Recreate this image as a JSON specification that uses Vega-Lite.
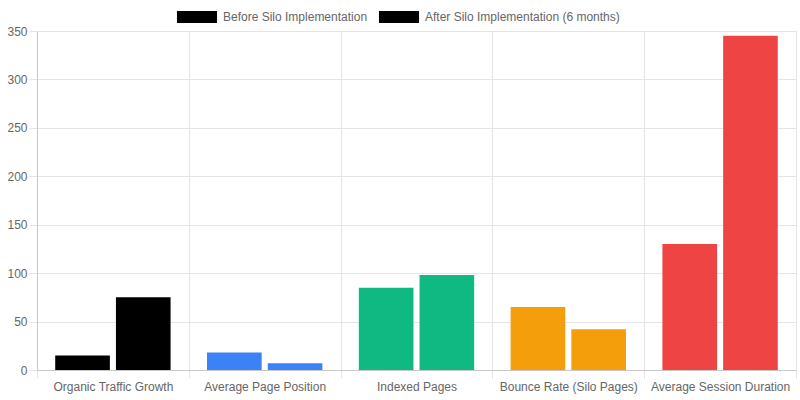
{
  "$schema": "https://vega.github.io/schema/vega-lite/v6.json",
  "width": 800,
  "height": 400,
  "autosize": {"type": "fit", "contains": "padding"},
  "padding": {"left": 6, "right": 3, "top": 25, "bottom": 8},
  "background": "white",
  "config": {
    "font": "Liberation Sans",
    "view": {"stroke": "#e5e5e5"},
    "axis": {"labelFont": "Liberation Sans", "labelFontSize": 12, "labelColor": "#666666", "gridColor": "#e5e5e5", "tickColor": "#e5e5e5", "domainColor": "#c8c8c8", "title": null}
  },
  "data": {
    "values": [
      {"metric": "Organic Traffic Growth", "series": "Before Silo Implementation", "value": 15},
      {"metric": "Organic Traffic Growth", "series": "After Silo Implementation (6 months)", "value": 75},
      {"metric": "Average Page Position", "series": "Before Silo Implementation", "value": 18},
      {"metric": "Average Page Position", "series": "After Silo Implementation (6 months)", "value": 7},
      {"metric": "Indexed Pages", "series": "Before Silo Implementation", "value": 85},
      {"metric": "Indexed Pages", "series": "After Silo Implementation (6 months)", "value": 98},
      {"metric": "Bounce Rate (Silo Pages)", "series": "Before Silo Implementation", "value": 65},
      {"metric": "Bounce Rate (Silo Pages)", "series": "After Silo Implementation (6 months)", "value": 42},
      {"metric": "Average Session Duration", "series": "Before Silo Implementation", "value": 130},
      {"metric": "Average Session Duration", "series": "After Silo Implementation (6 months)", "value": 345}
    ]
  },
  "encoding": {
    "x": {
      "field": "metric", "type": "nominal", "sort": null,
      "scale": {"paddingInner": 0, "paddingOuter": 0},
      "axis": {"labelAngle": 0, "grid": true, "bandPosition": 0, "tickBand": "extent", "tickSize": 8, "labelPadding": 3, "domainColor": "#c8c8c8"}
    },
    "xOffset": {
      "field": "series", "type": "nominal", "sort": ["Before Silo Implementation", "After Silo Implementation (6 months)"],
      "scale": {"paddingInner": 0.1, "paddingOuter": 0.3}
    },
    "y": {
      "field": "value", "type": "quantitative",
      "scale": {"domain": [0, 350], "nice": false},
      "axis": {"values": [0, 50, 100, 150, 200, 250, 300, 350], "tickSize": 8, "labelPadding": 2, "domainColor": "#c8c8c8"}
    }
  },
  "layer": [
    {
      "mark": {"type": "bar"},
      "encoding": {
        "color": {
          "field": "metric", "type": "nominal", "sort": null,
          "scale": {"domain": ["Organic Traffic Growth", "Average Page Position", "Indexed Pages", "Bounce Rate (Silo Pages)", "Average Session Duration"], "range": ["#000000", "#3b82f6", "#10b981", "#f59e0b", "#ef4444"]},
          "legend": null
        }
      }
    },
    {
      "mark": {"type": "bar", "opacity": 0},
      "encoding": {
        "color": {
          "field": "series", "type": "nominal",
          "sort": ["Before Silo Implementation", "After Silo Implementation (6 months)"],
          "scale": {"range": ["#000000", "#000000"]},
          "legend": {
            "title": null, "orient": "none", "direction": "horizontal",
            "legendX": 148, "legendY": -26,
            "symbolType": "M-1.67,-0.5H1.67V0.5H-1.67Z", "symbolSize": 576,
            "symbolOpacity": 1, "symbolStrokeWidth": 0,
            "labelFontSize": 12, "labelColor": "#666666", "labelFont": "Liberation Sans", "labelLimit": 400,
            "columnPadding": 10, "labelOffset": 14
          }
        }
      }
    }
  ],
  "resolve": {"scale": {"color": "independent"}}
}
